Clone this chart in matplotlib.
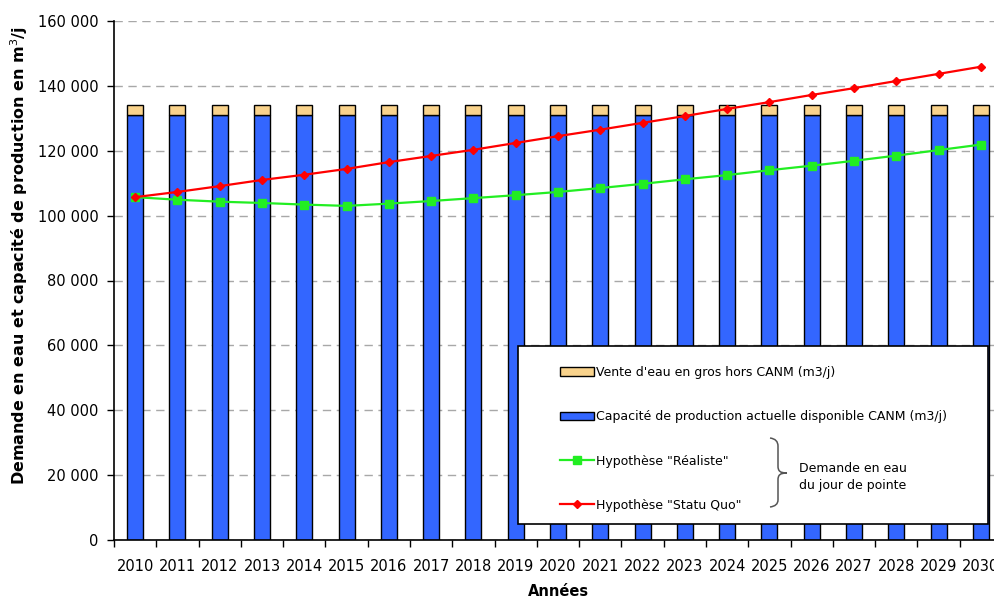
import matplotlib
matplotlib.use("Agg")
import matplotlib.pyplot as plt
from matplotlib.patches import Patch, Rectangle, PathPatch
from matplotlib.path import Path
from matplotlib.lines import Line2D
from matplotlib.ticker import FuncFormatter, FixedLocator
import numpy as np

years = [str(y) for y in range(2010, 2031)]
capacite = [131000] * 21
vente = [3000] * 21
statu_quo = [105700, 107300, 109100, 111000, 112600, 114400, 116500, 118400, 120300, 122400,
             124500, 126500, 128600, 130700, 132900, 135000, 137200, 139300, 141500, 143700, 145900]
realiste = [105700, 104900, 104300, 103900, 103400, 103000, 103700, 104500, 105400, 106300,
            107300, 108500, 109800, 111200, 112500, 114000, 115400, 116900, 118500, 120200, 121900]

plt.rcParams['font.family'] = ['DejaVu Sans']

W, H = 995, 598
fig = plt.figure(figsize=(W/100, H/100), dpi=100)
ax = fig.add_axes([114/W, 58/H, 888/W, 519/H])

def fx(px):
    return px / W

def fy(py):
    return 1 - py / H

x = np.arange(len(years))
blue = '#3366FF'
tan = '#F9D38C'
ax.bar(x, capacite, width=0.38, color=blue, edgecolor='black', linewidth=1, zorder=2)
ax.bar(x, vente, bottom=capacite, width=0.38, color=tan, edgecolor='black', linewidth=1, zorder=2)
ax.plot(x, realiste, color='#22EE22', lw=1.6, marker='s', ms=6, zorder=3)
ax.plot(x, statu_quo, color='#FF0000', lw=1.6, marker='D', ms=4, zorder=3)

ax.set_xlim(-0.5, len(years) - 0.5)
ax.set_ylim(0, 160000)
ax.set_yticks(np.arange(0, 160001, 20000))
ax.yaxis.set_major_formatter(FuncFormatter(lambda v, p: f"{int(v):,}".replace(",", " ")))
ax.set_xticks(x)
ax.set_xticklabels(years)
ax.xaxis.set_minor_locator(FixedLocator(np.arange(-0.5, len(years), 1.0)))
ax.tick_params(axis='x', which='major', length=0, labelsize=10.5, pad=14)
ax.tick_params(axis='x', which='minor', length=5, width=1, direction='out')
ax.tick_params(axis='y', length=5, width=1, direction='out', labelsize=10.5, pad=6)
ax.grid(axis='y', color='#A8A8A8', linestyle=(0, (6, 4)), linewidth=1, zorder=0)
for s in ['top', 'right']:
    ax.spines[s].set_visible(False)
ax.spines['left'].set_linewidth(1.2)
ax.spines['bottom'].set_linewidth(1.2)
ax.set_axisbelow(True)

ax.set_ylabel("Demande en eau et capacité de production en m$^3$/j", fontsize=11.5,
              fontweight='bold')
ax.yaxis.set_label_coords((30 - 114) / 888, (540 - 256) / 519)
ax.set_xlabel("Années", fontsize=10.5, fontweight='bold')
ax.xaxis.set_label_coords(0.5, (540 - 584) / 519)

# legend frame
fig.add_artist(Rectangle((fx(518), fy(524)), (988-518)/W, (524-346)/H,
                         transform=fig.transFigure, facecolor='white', edgecolor='black',
                         linewidth=1.2, zorder=8))
handles = [Patch(facecolor=tan, edgecolor='black'),
           Patch(facecolor=blue, edgecolor='black'),
           Line2D([], [], color='#22EE22', lw=1.6, marker='s', ms=6),
           Line2D([], [], color='#FF0000', lw=1.6, marker='D', ms=4)]
labels = ["Vente d'eau en gros hors CANM (m3/j)",
          "Capacité de production actuelle disponible CANM (m3/j)",
          'Hypothèse "Réaliste"',
          'Hypothèse "Statu Quo"']
leg = fig.legend(handles, labels, loc='upper left',
                 bbox_to_anchor=(fx(560), fy(366)), frameon=False,
                 fontsize=9, labelspacing=2.5, handlelength=2.7, handletextpad=0.2,
                 borderaxespad=0, borderpad=0)
leg.set_zorder(10)

# curly brace
pts = [(770, 438), (778, 439), (778, 446), (778, 466),
       (778, 471), (780, 473), (787, 473),
       (780, 473), (778, 475), (778, 480),
       (778, 500), (778, 506), (770, 507)]
codes = [Path.MOVETO, Path.CURVE3, Path.CURVE3, Path.LINETO,
         Path.CURVE4, Path.CURVE4, Path.CURVE4,
         Path.CURVE4, Path.CURVE4, Path.CURVE4,
         Path.LINETO, Path.CURVE3, Path.CURVE3]
brace = Path([(fx(a), fy(b)) for a, b in pts], codes)
fig.add_artist(PathPatch(brace, transform=fig.transFigure, facecolor='none',
                         edgecolor='#555555', linewidth=1.1, zorder=10))
fig.text(fx(853), fy(477), "Demande en eau\ndu jour de pointe", fontsize=9,
         ha='center', va='center', linespacing=1.45, zorder=10)

fig.savefig("out.png", dpi=100)
